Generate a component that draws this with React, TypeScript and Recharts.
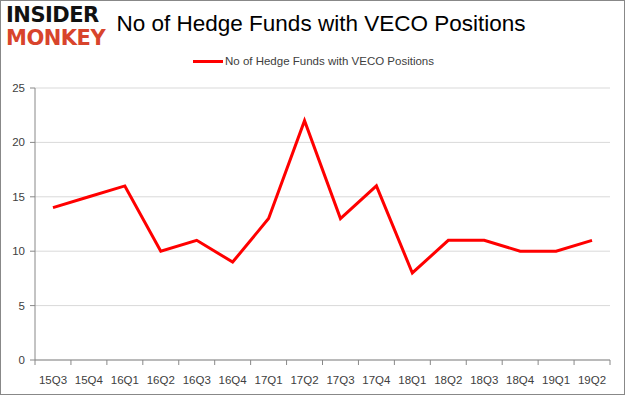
import { LineChart, Line, XAxis, YAxis, CartesianGrid } from 'recharts';

const quarters = ['15Q3', '15Q4', '16Q1', '16Q2', '16Q3', '16Q4', '17Q1', '17Q2', '17Q3', '17Q4', '18Q1', '18Q2', '18Q3', '18Q4', '19Q1', '19Q2'];
const hedgeFunds = [14, 15, 16, 10, 11, 9, 13, 22, 13, 16, 8, 11, 11, 10, 10, 11];
const yTicks = [0, 5, 10, 15, 20, 25];
const seriesName = 'No of Hedge Funds with VECO Positions';

const data = quarters.map((q, i) => ({ quarter: q, value: hedgeFunds[i] }));

const font = '"Liberation Sans", Arial, sans-serif';
const chartW = 625;
const chartH = 395;
const xAxisH = 30;
const margin = { top: 88, right: 15, bottom: 5, left: 0 };
const yAxisW = 35;
const band = (chartW - margin.left - margin.right - yAxisW) / quarters.length;

// tick label in band centre, tick mark on band edge (Excel style)
function QuarterTick(props: any) {
  const { x, y, payload, index } = props;
  const last = index === quarters.length - 1;
  return (
    <g>
      <line x1={x - band / 2} x2={x - band / 2} y1={y - 8} y2={y - 3} stroke="#888" />
      {last && <line x1={x + band / 2} x2={x + band / 2} y1={y - 8} y2={y - 3} stroke="#888" />}
      <text x={x} y={y + 16} textAnchor="middle" fill="#404040" fontSize={11.5} fontFamily={font}>
        {payload.value}
      </text>
    </g>
  );
}

export default function App() {
  return (
    <div style={{ position: 'absolute', left: 0, top: 0, width: chartW, height: chartH, background: '#fff', boxSizing: 'border-box', border: '1px solid #888', overflow: 'hidden' }}>
      <div style={{ position: 'absolute', left: 5, top: 3, fontFamily: '"DejaVu Sans", sans-serif', fontWeight: 900, fontSize: 21, lineHeight: '22px', color: '#111', letterSpacing: -0.5 }}>
        INSIDER
      </div>
      <div style={{ position: 'absolute', left: 5, top: 26, fontFamily: '"DejaVu Sans", sans-serif', fontWeight: 900, fontSize: 21, lineHeight: '22px', color: '#d8442c', letterSpacing: -0.5 }}>
        MONKEY
      </div>
      <div style={{ position: 'absolute', left: 100, top: 10, width: 440, textAlign: 'center', fontFamily: font, fontSize: 22.5, color: '#000' }}>
        {seriesName}
      </div>
      <div style={{ position: 'absolute', left: 0, top: 54, width: chartW, display: 'flex', alignItems: 'center', justifyContent: 'center', fontFamily: font, fontSize: 11.5, color: '#404040' }}>
        <span style={{ display: 'inline-block', width: 30, height: 3, background: '#ff0000', marginRight: 2 }} />
        {seriesName}
      </div>
      <div style={{ position: 'absolute', left: -1, top: -1 }}>
        <LineChart width={chartW} height={chartH} data={data} margin={margin}>
          <CartesianGrid vertical={false} stroke="#d9d9d9" />
          <XAxis dataKey="quarter" scale="band" height={xAxisH} stroke="#888" tick={<QuarterTick />} tickLine={false} interval={0} />
          <YAxis domain={[0, 25]} ticks={yTicks} width={yAxisW} stroke="#888" tick={{ fill: '#404040', fontSize: 11.5, fontFamily: font }} tickSize={5} tickMargin={5} />
          <Line type="linear" dataKey="value" name={seriesName} stroke="#ff0000" strokeWidth={3} dot={false} isAnimationActive={false} />
        </LineChart>
      </div>
    </div>
  );
}
